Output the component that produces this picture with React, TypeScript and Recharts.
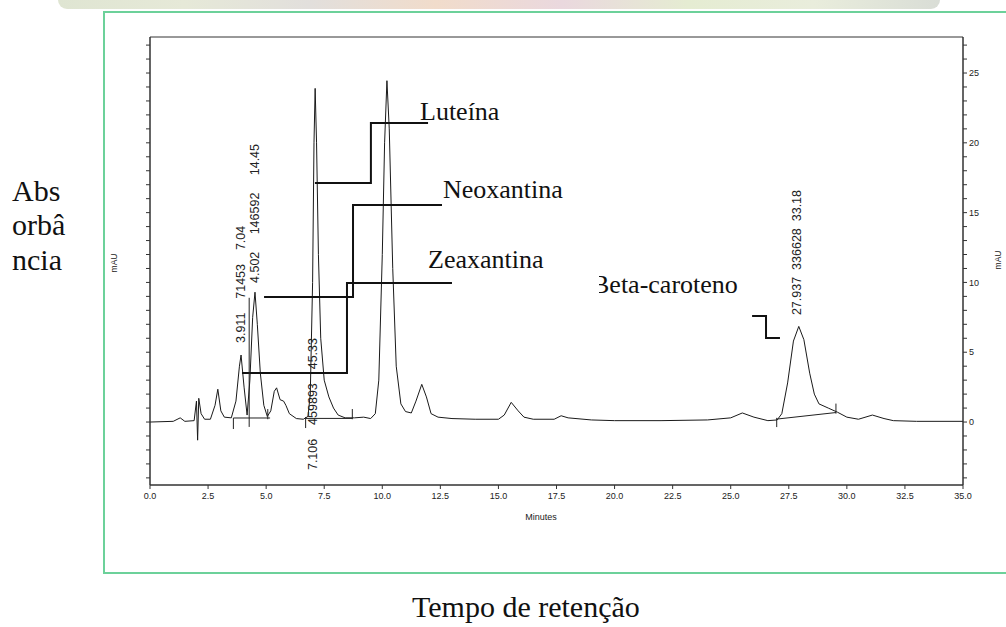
import React from "react";
import { LineChart, Line, XAxis, YAxis, ReferenceLine, ReferenceArea, ReferenceDot } from "recharts";

// chromatogram trace (minutes, mAU)
const retentionTimes = [
  0, 1.0, 1.3, 1.5, 1.9, 2.0, 2.05, 2.1, 2.2, 2.35, 2.6, 2.8, 2.92, 3.05, 3.2, 3.5, 3.7, 3.85, 3.92, 4.05,
  4.18, 4.3, 4.42, 4.52, 4.62, 4.75, 4.9, 5.05, 5.2, 5.35, 5.45, 5.6, 5.75, 5.85, 6.0, 6.3, 6.6, 6.8, 6.9, 7.0,
  7.06, 7.11, 7.17, 7.25, 7.35, 7.5, 7.7, 7.9, 8.1, 8.4, 8.8, 9.2, 9.5, 9.7, 9.85, 10.0, 10.1, 10.2, 10.3, 10.45,
  10.6, 10.8, 11.0, 11.25, 11.45, 11.7, 11.9, 12.1, 12.4, 13.0, 14.0, 15.0, 15.25, 15.55, 15.85, 16.1, 16.5, 17.4, 17.7, 18.0,
  19.0, 20.0, 22.0, 24.0, 25.0, 25.5, 26.0, 26.6, 27.0, 27.2, 27.45, 27.7, 27.93, 28.15, 28.4, 28.6, 28.8, 29.2, 29.6, 30.0,
  30.5, 31.1, 31.6, 32.0, 33.0, 35.0,
];
const absorbance = [
  0, 0.05, 0.3, 0.05, 0.1, 1.5, -1.3, 1.7, 0.6, 0.2, 0.2, 1.2, 2.35, 0.8, 0.35, 0.3, 1.5, 4.0, 4.8, 2.5,
  0.5, 3.0, 7.5, 9.3, 7.0, 3.5, 1.2, 0.4, 0.8, 2.2, 2.45, 1.6, 1.5, 1.2, 0.6, 0.25, 0.2, 0.4, 2.0, 10,
  20, 23.9, 20, 12, 6, 3, 1.8, 1.0, 0.5, 0.3, 0.3, 0.35, 0.25, 0.6, 3, 12, 20, 24.45, 21, 11,
  4, 1.3, 0.75, 0.65, 1.5, 2.7, 1.8, 0.6, 0.35, 0.25, 0.2, 0.2, 0.5, 1.41, 0.8, 0.35, 0.2, 0.2, 0.45, 0.3,
  0.15, 0.1, 0.1, 0.15, 0.3, 0.65, 0.35, 0.1, 0.15, 0.6, 2.8, 5.8, 6.85, 5.9, 3.5, 2.0, 1.3, 1.0, 0.7, 0.35,
  0.2, 0.5, 0.25, 0.1, 0.05, 0.05,
];

const xTicks = [0, 2.5, 5, 7.5, 10, 12.5, 15, 17.5, 20, 22.5, 25, 27.5, 30, 32.5, 35];
const yTicks = [-4, -3, -2, -1, 0, 1, 2, 3, 4, 5, 6, 7, 8, 9, 10, 11, 12, 13, 14, 15, 16, 17, 18, 19, 20, 21, 22, 23, 24, 25, 26, 27];
const xDomain = [0, 35];
const yDomain = [-4.51, 27.58];

// leader lines from peaks to compound names
const luteinaLeader = [[7.1, 17.12], [9.51, 17.12], [9.51, 21.42], [11.97, 21.42]];
const neoxantinaLeader = [[4.91, 8.95], [8.74, 8.95], [8.74, 15.54], [12.57, 15.54]];
const zeaxantinaLeader = [[3.96, 3.51], [8.48, 3.51], [8.48, 9.96], [13.0, 9.96]];
const betaLeader = [[25.92, 7.59], [26.52, 7.59], [26.52, 6.02], [27.12, 6.02]];

// integration baselines and tick marks [t1, v1, t2, v2]
const integrationMarks = [
  [3.59, 0.29, 5.17, 0.29],
  [3.59, 0.29, 3.59, -0.5],
  [4.27, -0.35, 4.27, 8.9],
  [5.07, 0.2, 5.07, 0.93],
  [6.7, 0.26, 8.71, 0.26],
  [6.7, 0.36, 6.7, -0.43],
  [8.71, 0.2, 8.71, 0.93],
  [26.98, 0.21, 29.53, 0.68],
  [26.98, 0.3, 26.98, -0.36],
  [29.53, 0.6, 29.53, 1.32],
];

// rotated peak reports: [t, v at text start, text]
const peakReports: [number, number, string][] = [
  [3.92, 5.66, "3.911    71453    7.04"],
  [4.52, 9.96, "4.502     146592     14.45"],
  [7.02, -3.44, "7.106    459893    45.33"],
  [27.85, 7.66, "27.937  336628  33.18"],
];

const trace = retentionTimes.map((t, i) => ({ t, v: absorbance[i] }));
const toPts = (arr: number[][]) => arr.map(([t, v]) => ({ t, v }));

const small = "'Liberation Sans', Arial, sans-serif";
const serif = "'Liberation Serif', 'Times New Roman', serif";

const RightTick = (p: any) => {
  const { x, y, payload } = p;
  if (payload.value % 5 !== 0) return <g />;
  return (
    <text x={x} y={y} dy="0.35em" fontSize={9} fontFamily={small} fill="#222" textAnchor="start">
      {payload.value}
    </text>
  );
};

const BottomTick = (p: any) => {
  const { x, y, payload } = p;
  return (
    <text x={x} y={y} dy="0.71em" fontSize={9} fontFamily={small} fill="#222" textAnchor="middle">
      {payload.value.toFixed(1)}
    </text>
  );
};

export default function App() {
  return (
    <div style={{ position: "absolute", left: 0, top: 0, width: 1006, height: 627, overflow: "hidden", background: "#fff" }}>
      {/* faded photo strip at the top edge */}
      <div
        style={{
          position: "absolute",
          left: 58,
          top: 0,
          width: 882,
          height: 9,
          borderRadius: "0 0 40px 40px",
          background: "linear-gradient(90deg, #dfe5d2, #e6e9d8, #e2dfdc, #f1dccb, #ead8de, #e5ecd2, #e9eddc, #d9ddd6)",
        }}
      />
      {/* green frame */}
      <div
        style={{
          position: "absolute",
          left: 103,
          top: 11,
          width: 1000,
          height: 563,
          border: "2px solid #6cd19a",
          boxSizing: "border-box",
        }}
      />
      <div style={{ position: "absolute", left: 0, top: 0 }}>
        <LineChart width={1006} height={627} margin={{ top: 37, right: 13, bottom: 112, left: 140 }}>
          <XAxis
            dataKey="t"
            type="number"
            domain={xDomain}
            ticks={xTicks}
            interval={0}
            allowDataOverflow
            height={30}
            tickSize={4}
            tickMargin={4}
            stroke="#333"
            tick={<BottomTick />}
          />
          <YAxis
            yAxisId="l"
            orientation="left"
            type="number"
            domain={yDomain}
            ticks={yTicks}
            interval={0}
            allowDataOverflow
            width={10}
            tickSize={4}
            stroke="#333"
            tick={() => <g />}
          />
          <YAxis
            yAxisId="r"
            orientation="right"
            type="number"
            domain={yDomain}
            ticks={yTicks}
            interval={0}
            allowDataOverflow
            width={30}
            tickSize={4}
            tickMargin={2}
            stroke="#333"
            tick={<RightTick />}
          />
          <ReferenceArea yAxisId="r" x1={0} x2={35} y1={yDomain[0]} y2={yDomain[1]} fill="none" stroke="#333" strokeWidth={1} ifOverflow="visible" />
          <Line yAxisId="r" data={trace} dataKey="v" stroke="#1a1a1a" strokeWidth={1} dot={false} type="linear" isAnimationActive={false} />
          {[luteinaLeader, neoxantinaLeader, zeaxantinaLeader, betaLeader].map((arr, i) => (
            <Line
              key={"lead" + i}
              yAxisId="r"
              data={toPts(arr)}
              dataKey="v"
              stroke="#111"
              strokeWidth={2}
              dot={false}
              type="linear"
              isAnimationActive={false}
            />
          ))}
          {integrationMarks.map((m, i) => (
            <ReferenceLine
              key={"im" + i}
              yAxisId="r"
              segment={[{ x: m[0], y: m[1] }, { x: m[2], y: m[3] }]}
              stroke="#222"
              strokeWidth={1}
              ifOverflow="visible"
            />
          ))}
          {peakReports.map(([t, v, s], i) => (
            <ReferenceDot
              key={"pr" + i}
              yAxisId="r"
              x={t}
              y={v}
              ifOverflow="visible"
              shape={(p: any) => (
                <text
                  transform={`translate(${p.cx},${p.cy}) rotate(-90)`}
                  dy="0.35em"
                  fontSize={12.5}
                  fontFamily={small}
                  fill="#222"
                  style={{ whiteSpace: "pre" }}
                >
                  {s}
                </text>
              )}
            />
          ))}
        </LineChart>
      </div>
      <svg width={1006} height={627} style={{ position: "absolute", left: 0, top: 0, pointerEvents: "none" }}>
        <g fontFamily={serif} fill="#111">
          <text x={12} y={201} fontSize={30}>Abs</text>
          <text x={12} y={235} fontSize={30}>orbâ</text>
          <text x={12} y={270} fontSize={30}>ncia</text>
          <text x={412} y={617} fontSize={30}>Tempo de retenção</text>
          <text x={420} y={120} fontSize={26}>Luteína</text>
          <text x={443} y={198} fontSize={26}>Neoxantina</text>
          <text x={428} y={268} fontSize={26}>Zeaxantina</text>
          <text x={592} y={293} fontSize={26}>Beta-caroteno</text>
        </g>
        <rect x={586} y={268} width={13} height={30} fill="#fff" />
        <g fontFamily={small} fill="#222">
          <text transform="translate(114,263) rotate(-90)" fontSize={8.5} textAnchor="middle" dy="0.35em">mAU</text>
          <text transform="translate(998,260) rotate(-90)" fontSize={8.5} textAnchor="middle" dy="0.35em">mAU</text>
          <text x={541} y={520} fontSize={9} textAnchor="middle">Minutes</text>
        </g>
      </svg>
    </div>
  );
}
